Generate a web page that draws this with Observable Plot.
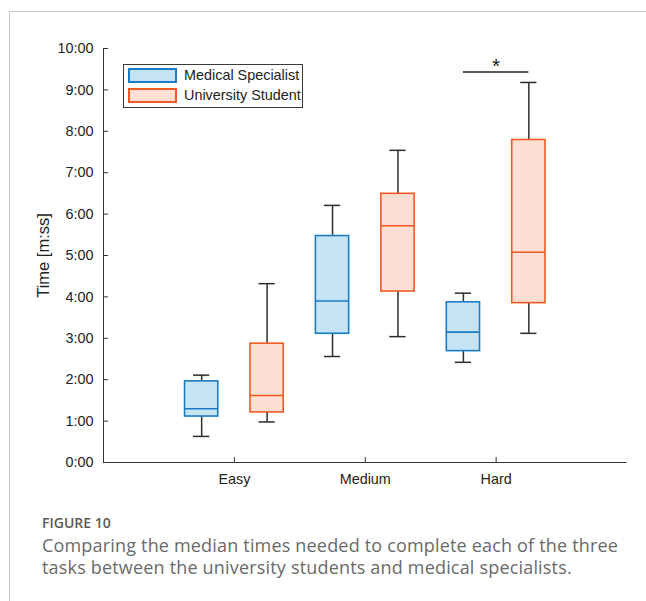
<!DOCTYPE html>
<html>
<head>
<meta charset="utf-8">
<script src="https://cdn.jsdelivr.net/npm/d3@7"></script>
<script src="https://cdn.jsdelivr.net/npm/@observablehq/plot@0.6"></script>
<style>
  html, body { margin: 0; padding: 0; background: #fff; }
  #wrap { position: relative; width: 646px; height: 601px; overflow: hidden; background: #fff; }
  .frameTop { position: absolute; left: 9px; top: 11px; right: 0; height: 1px; background: #c8c8c8; }
  .frameLeft { position: absolute; left: 9px; top: 11px; bottom: 0; width: 1px; background: #c8c8c8; }
  #chart { position: absolute; left: 0; top: 0; }
  #legend { position: absolute; left: 123px; top: 64px; width: 178px; height: 42px; border: 1px solid #3a3a3a; background: #fff;
            font-family: "Liberation Sans", Arial, sans-serif; font-size: 14.4px; color: #222; }
  .lrow { position: absolute; left: 4px; height: 15px; }
  .sw { position: absolute; left: 0; top: 0; width: 45px; height: 11px; border: 2px solid; }
  .lt { position: absolute; left: 56px; top: -1px; white-space: nowrap; line-height: 17px; }
  #figlabel { position: absolute; left: 42px; top: 517px; font-family: "Open Sans", sans-serif; font-weight: 600; font-size: 14px; line-height: 12px; color: #595959; }
  #caption { position: absolute; left: 42px; top: 534px; font-family: "Open Sans", sans-serif; font-size: 18px; letter-spacing: 0.18px; line-height: 22px; color: #6a6a6a; white-space: nowrap; }
</style>
</head>
<body>
<div id="wrap">
  <div class="frameTop"></div>
  <div class="frameLeft"></div>
  <div id="chart"></div>
  <div id="legend"></div>
  <div id="figlabel"></div>
  <div id="caption"></div>
</div>
<script>
// ---- data (times in minutes) ----
const tasks = ["Easy", "Medium", "Hard"];
const groups = ["Medical Specialist", "University Student"];
const specialistLow    = [0.63, 2.56, 2.42];
const specialistQ1     = [1.11, 3.11, 2.69];
const specialistMedian = [1.30, 3.90, 3.15];
const specialistQ3     = [1.96, 5.47, 3.87];
const specialistHigh   = [2.11, 6.21, 4.09];
const studentLow    = [0.98, 3.04, 3.12];
const studentQ1     = [1.21, 4.13, 3.85];
const studentMedian = [1.62, 5.72, 5.08];
const studentQ3     = [2.87, 6.49, 7.79];
const studentHigh   = [4.32, 7.54, 9.18];
const yTicks = [0, 1, 2, 3, 4, 5, 6, 7, 8, 9, 10];
const significance = [{task: "Hard", level: 9.43, label: "*"}];
const yLabel = "Time [m:ss]";
const figureLabel = "FIGURE 10";
const captionLines = [
  "Comparing the median times needed to complete each of the three",
  "tasks between the university students and medical specialists."
];

// ---- styling ----
const strokeColors = {"Medical Specialist": "#1a7cc4", "University Student": "#f05a22"};
const fillColors = {"Medical Specialist": "#c5e3f3", "University Student": "#fddfd3"};
const groupOffset = {"Medical Specialist": -0.25, "University Student": 0.25};
const boxHalf = 0.127;
const capHalf = 0.062;
const whiskerColor = "#2d2d2d";

const rows = [];
tasks.forEach((t, i) => {
  rows.push({task: t, group: groups[0], pos: i + 1 + groupOffset[groups[0]],
    low: specialistLow[i], q1: specialistQ1[i], median: specialistMedian[i], q3: specialistQ3[i], high: specialistHigh[i]});
  rows.push({task: t, group: groups[1], pos: i + 1 + groupOffset[groups[1]],
    low: studentLow[i], q1: studentQ1[i], median: studentMedian[i], q3: studentQ3[i], high: studentHigh[i]});
});
const taskPos = t => tasks.indexOf(t) + 1;

const plot = Plot.plot({
  width: 646,
  height: 500,
  marginTop: 48,
  marginBottom: 38,
  marginLeft: 103,
  marginRight: 19.5,
  style: {fontFamily: "'Liberation Sans', Arial, sans-serif", fontSize: "14.4px", color: "#222", background: "transparent"},
  x: {domain: [0, 4]},
  y: {domain: [0, 10]},
  marks: [
    // whiskers
    Plot.ruleX(rows, {x: "pos", y1: "q3", y2: "high", stroke: whiskerColor, strokeWidth: 1.5}),
    Plot.ruleX(rows, {x: "pos", y1: "low", y2: "q1", stroke: whiskerColor, strokeWidth: 1.5}),
    Plot.ruleY(rows, {y: "high", x1: d => d.pos - capHalf, x2: d => d.pos + capHalf, stroke: whiskerColor, strokeWidth: 1.5}),
    Plot.ruleY(rows, {y: "low", x1: d => d.pos - capHalf, x2: d => d.pos + capHalf, stroke: whiskerColor, strokeWidth: 1.5}),
    // boxes
    Plot.rect(rows, {x1: d => d.pos - boxHalf, x2: d => d.pos + boxHalf, y1: "q1", y2: "q3",
      fill: d => fillColors[d.group], stroke: d => strokeColors[d.group], strokeWidth: 1.6}),
    Plot.ruleY(rows, {y: "median", x1: d => d.pos - boxHalf, x2: d => d.pos + boxHalf,
      stroke: d => strokeColors[d.group], strokeWidth: 1.6}),
    // significance
    Plot.ruleY(significance, {y: "level", x1: d => taskPos(d.task) - 0.25, x2: d => taskPos(d.task) + 0.25, stroke: "#222", strokeWidth: 1.5}),
    Plot.text(significance, {x: d => taskPos(d.task), y: "level", text: "label", dy: -6, fontSize: 21, fill: "#222"}),
    // axes
    Plot.ruleX([0], {stroke: "#333", strokeWidth: 1}),
    Plot.ruleY([0], {stroke: "#333", strokeWidth: 1}),
    Plot.axisY({ticks: yTicks, tickFormat: m => `${m}:00`, tickSize: -5, tickPadding: 15, label: null, stroke: "#333", fontSize: 14.4}),
    Plot.axisX({ticks: tasks.map((t, i) => i + 1), tickFormat: i => tasks[i - 1], tickSize: -5, tickPadding: 16, label: null, stroke: "#333", fontSize: 14.4}),
    Plot.text([yLabel], {frameAnchor: "left", textAnchor: "middle", rotate: -90, dx: -60, fontSize: 16.5, fill: "#222"})
  ]
});
document.getElementById("chart").appendChild(plot);

// legend
const legend = document.getElementById("legend");
groups.forEach((g, i) => {
  const row = document.createElement("div");
  row.className = "lrow";
  row.style.top = (3 + i * 20) + "px";
  const sw = document.createElement("div");
  sw.className = "sw";
  sw.style.background = fillColors[g];
  sw.style.borderColor = strokeColors[g];
  const lt = document.createElement("div");
  lt.className = "lt";
  lt.textContent = g;
  row.appendChild(sw);
  row.appendChild(lt);
  legend.appendChild(row);
});

document.getElementById("figlabel").textContent = figureLabel;
document.getElementById("caption").innerHTML = captionLines.join("<br>");
</script>
</body>
</html>
